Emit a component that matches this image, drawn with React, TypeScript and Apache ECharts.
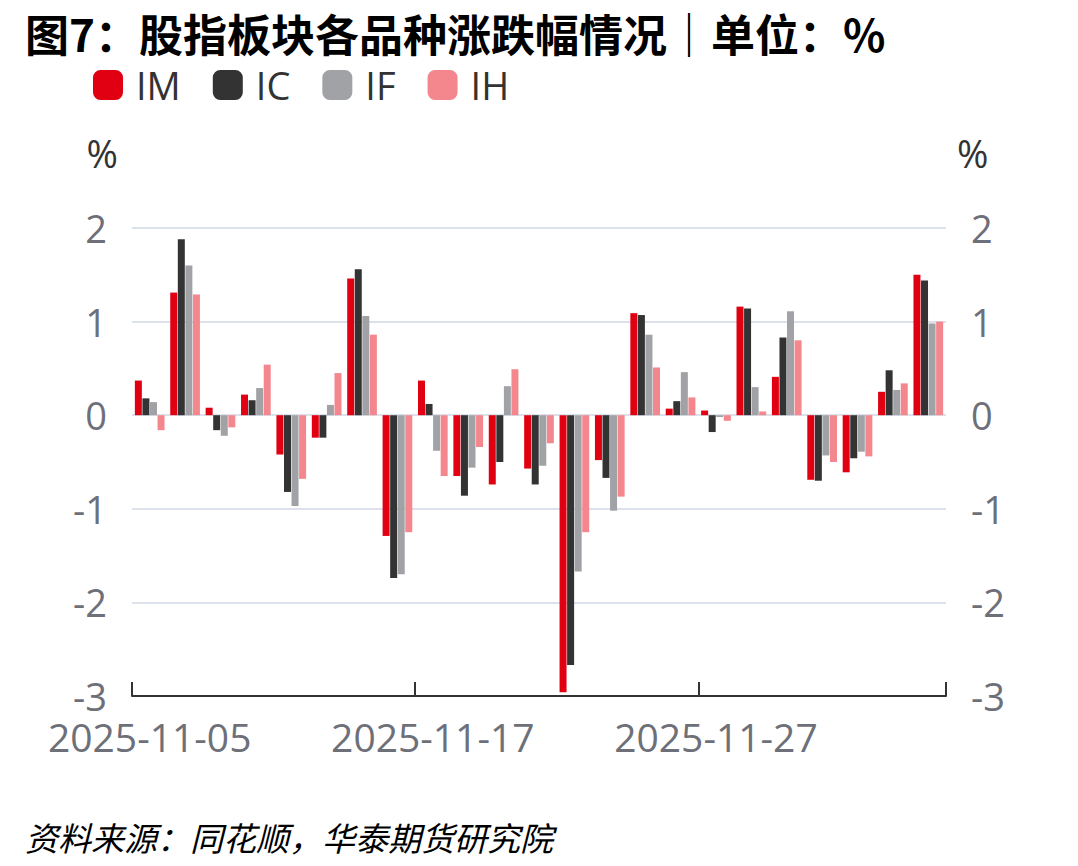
import React, { useEffect, useRef } from "react";
import * as echarts from "echarts";

const titleText = "图7：股指板块各品种涨跌幅情况｜单位：%";
const sourceText = "资料来源：同花顺，华泰期货研究院";

const dates = [
  "2025-11-05", "2025-11-06", "2025-11-07", "2025-11-10", "2025-11-11", "2025-11-12",
  "2025-11-13", "2025-11-14", "2025-11-17", "2025-11-18", "2025-11-19", "2025-11-20",
  "2025-11-21", "2025-11-24", "2025-11-25", "2025-11-26", "2025-11-27", "2025-11-28",
  "2025-12-01", "2025-12-02", "2025-12-03", "2025-12-04", "2025-12-05",
];

const seriesNames = ["IM", "IC", "IF", "IH"];
const seriesColors = ["#e00012", "#333333", "#a0a2a5", "#f4878e"];

const IM = [0.37, 1.31, 0.08, 0.22, -0.42, -0.24, 1.46, -1.29, 0.37, -0.65, -0.74, -0.57, -2.96, -0.48, 1.09, 0.07, 0.05, 1.16, 0.41, -0.69, -0.61, 0.25, 1.50];
const IC = [0.18, 1.88, -0.16, 0.16, -0.82, -0.24, 1.56, -1.74, 0.12, -0.86, -0.50, -0.74, -2.67, -0.67, 1.07, 0.15, -0.18, 1.14, 0.83, -0.70, -0.46, 0.48, 1.44];
const IF = [0.14, 1.60, -0.22, 0.29, -0.97, 0.11, 1.06, -1.70, -0.38, -0.56, 0.31, -0.54, -1.67, -1.02, 0.86, 0.46, -0.02, 0.30, 1.11, -0.43, -0.39, 0.27, 0.98];
const IH = [-0.16, 1.29, -0.13, 0.54, -0.68, 0.45, 0.86, -1.25, -0.65, -0.34, 0.49, -0.30, -1.25, -0.87, 0.51, 0.19, -0.06, 0.04, 0.80, -0.50, -0.44, 0.34, 1.00];

const yMin = -3;
const yMax = 2;
const yInterval = 1;

const latin = "'Open Sans', 'Noto Sans CJK SC', sans-serif";
const cjk = "'Noto Sans CJK SC', sans-serif";

export default function App() {
  const ref = useRef<HTMLDivElement>(null);

  useEffect(() => {
    if (!ref.current) return;
    const chart = echarts.init(ref.current, undefined, { renderer: "svg" });
    const values = [IM, IC, IF, IH];

    const yAxisBase = {
      type: "value",
      min: yMin,
      max: yMax,
      interval: yInterval,
      axisLine: { show: false },
      axisTick: { show: false },
      nameGap: 75,
      axisLabel: { color: "#6e7079", fontSize: 38, lineHeight: 30, fontFamily: latin, margin: 25 },
    };

    chart.setOption({
      animation: false,
      backgroundColor: "#ffffff",
      title: [
        {
          text: titleText,
          left: 20,
          top: 6,
          textStyle: { fontSize: 44, lineHeight: 44, fontWeight: "bold", color: "#000", fontFamily: cjk },
        },
        {
          text: sourceText,
          left: 20,
          top: 815,
          textStyle: { fontSize: 33, lineHeight: 33, fontWeight: "normal", fontStyle: "italic", color: "#000", fontFamily: cjk },
        },
      ],
      legend: {
        left: 88,
        top: 61,
        itemWidth: 30,
        itemHeight: 30,
        itemGap: 32,
        icon: "roundRect",
        textStyle: { fontSize: 38, lineHeight: 32, color: "#333", fontFamily: latin, padding: [0, 0, 0, 8] },
        data: seriesNames,
      },
      grid: { left: 132, right: 132, top: 228, bottom: 170, containLabel: false },
      xAxis: {
        type: "category",
        data: dates,
        boundaryGap: true,
        axisLine: { show: true, onZero: false, lineStyle: { color: "#333", width: 2 } },
        axisTick: { show: true, inside: true, length: 14, interval: 7, lineStyle: { color: "#333", width: 2 } },
        axisLabel: { interval: 7, color: "#6e7079", fontSize: 39, lineHeight: 30, fontFamily: latin, margin: 25 },
      },
      yAxis: [
        {
          ...yAxisBase,
          position: "left",
          name: "%",
          nameTextStyle: { color: "#333", fontSize: 38, lineHeight: 32, fontFamily: latin, align: "right", verticalAlign: "middle", padding: [0, 14, 0, 0] },
          splitLine: { show: true, lineStyle: { color: "#dde1ec", width: 2 } },
        },
        {
          ...yAxisBase,
          position: "right",
          name: "%",
          nameTextStyle: { color: "#333", fontSize: 38, lineHeight: 32, fontFamily: latin, align: "left", verticalAlign: "middle", padding: [0, 0, 0, 11] },
          splitLine: { show: false },
        },
      ],
      series: seriesNames.map((name, i) => ({
        name,
        type: "bar",
        yAxisIndex: 0,
        data: values[i],
        barWidth: 7,
        barGap: "8%",
        itemStyle: { color: seriesColors[i] },
      })),
    });

    return () => chart.dispose();
  }, []);

  return (
    <div
      ref={ref}
      style={{ position: "fixed", left: 0, top: 0, width: 1078, height: 866, background: "#fff" }}
    />
  );
}
